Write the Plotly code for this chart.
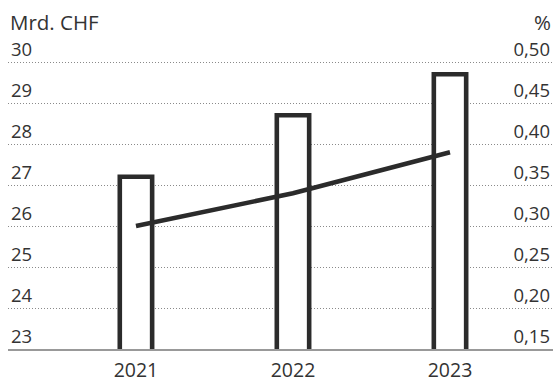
import plotly.graph_objects as go

# Data
years = ["2021", "2022", "2023"]
volume_bn_chf = [27.2, 28.7, 29.7]      # bars, left axis (Mrd. CHF)
share_pct = [0.30, 0.34, 0.39]          # line, right axis (%)

left_ticks = [23, 24, 25, 26, 27, 28, 29, 30]
right_ticks = [0.15, 0.20, 0.25, 0.30, 0.35, 0.40, 0.45, 0.50]
right_tick_text = ["0,15", "0,20", "0,25", "0,30", "0,35", "0,40", "0,45", "0,50"]

FONT = "Open Sans"
TEXT = "#333333"
INK = "#2b2b2b"

x_pos = list(range(len(years)))

# Plot box geometry (px)
W, H = 556, 382
M_L, M_R, M_T, M_B = 8, 3, 21, 33
PLOT_H = H - M_T - M_B

# Left scale runs past 30 so the top tick label has room above its gridline;
# the right scale stays aligned with it (1 Mrd. CHF <-> 0.05 %).
Y_TOP = 31.0
Y2_TOP = 0.15 + (Y_TOP - 23) * 0.05

# vertical centre of the unit labels, px from the top of the page
UNIT_Y_PX = 22
unit_y = (H - M_B - UNIT_Y_PX) / PLOT_H

fig = go.Figure()

fig.add_trace(go.Bar(
    x=x_pos, y=volume_bn_chf, base=0,
    width=0.206,
    marker=dict(color="white", line=dict(color=INK, width=4.6)),
    yaxis="y", showlegend=False, hoverinfo="skip",
))

fig.add_trace(go.Scatter(
    x=x_pos, y=share_pct, mode="lines",
    line=dict(color=INK, width=4.5),
    yaxis="y2", showlegend=False, hoverinfo="skip",
))

fig.update_layout(
    width=W, height=H,
    margin=dict(l=M_L, r=M_R, t=M_T, b=M_B),
    paper_bgcolor="white", plot_bgcolor="white",
    font=dict(family=FONT, size=18.5, color=TEXT),
    xaxis=dict(
        range=[-0.815, 2.656],
        tickvals=x_pos, ticktext=years,
        showgrid=False, zeroline=False,
        showline=True, linecolor="#999999", linewidth=2,
        ticks="outside", ticklen=3, tickcolor="rgba(0,0,0,0)",
        tickfont=dict(size=19.5, color=TEXT),
        layer="below traces", automargin=False,
    ),
    yaxis=dict(
        range=[23, Y_TOP],
        tickvals=left_ticks,
        ticklabelposition="inside top",
        showgrid=True, gridcolor="#8a8a8a", gridwidth=1, griddash="1px,2px",
        zeroline=False, showline=False, ticks="",
        tickfont=dict(size=18.5, color=TEXT), automargin=False,
    ),
    yaxis2=dict(
        range=[0.15, Y2_TOP],
        tickvals=right_ticks, ticktext=right_tick_text,
        overlaying="y", side="right",
        ticklabelposition="inside top",
        showgrid=False, zeroline=False, showline=False, ticks="",
        tickfont=dict(size=18.5, color=TEXT), automargin=False,
    ),
    annotations=[
        dict(text="Mrd. CHF", xref="paper", yref="paper", x=0, y=unit_y,
             xanchor="left", yanchor="middle", showarrow=False,
             font=dict(size=20.5, color=TEXT)),
        dict(text="%", xref="paper", yref="paper", x=1, y=unit_y,
             xanchor="right", yanchor="middle", showarrow=False,
             font=dict(size=20.5, color=TEXT)),
    ],
)

fig.write_html("out.html")
